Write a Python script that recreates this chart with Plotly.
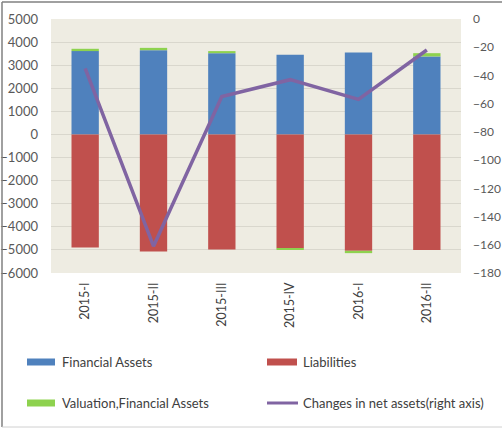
import plotly.graph_objects as go

categories = ["2015-I", "2015-II", "2015-III", "2015-IV", "2016-I", "2016-II"]
financial_assets = [3610, 3650, 3520, 3450, 3550, 3380]
liabilities = [-4900, -5070, -4985, -4930, -5040, -5000]
valuation_fa = [100, 100, 90, -70, -100, 140]
net_change = [-35, -161, -55, -43, -57, -22]

left_ticks = list(range(-6000, 5001, 1000))
right_ticks = list(range(-180, 1, 20))

W, H = 502, 432
L, R, T, B = 51, 41, 19, 159
PW, PH = W - L - R, H - T - B

def px(x):
    return (x - L) / PW

def py(y):
    return 1 - (y - T) / PH

BLUE = "#4F81BD"
RED = "#C0504D"
GREEN = "#8ED24F"
PURPLE = "#8064A2"
FONT = "Lato"

fig = go.Figure()
fig.add_trace(go.Bar(x=categories, y=financial_assets, name="Financial Assets",
                     marker=dict(color=BLUE, line=dict(width=0)), width=0.4))
fig.add_trace(go.Bar(x=categories, y=liabilities, name="Liabilities",
                     marker=dict(color=RED, line=dict(width=0)), width=0.4))
fig.add_trace(go.Bar(x=categories, y=valuation_fa, name="Valuation,Financial Assets",
                     marker=dict(color=GREEN, line=dict(width=0)), width=0.4))
fig.add_trace(go.Scatter(x=categories, y=net_change, name="Changes in net assets(right axis)",
                         mode="lines", line=dict(color=PURPLE, width=3.5), yaxis="y2"))

fig.update_layout(
    width=W, height=H,
    margin=dict(l=L, r=R, t=T, b=B),
    paper_bgcolor="white",
    plot_bgcolor="#EEECE2",
    barmode="relative",
    showlegend=False,
    font=dict(family=FONT, size=13, color="#595959"),
    xaxis=dict(tickangle=-90, tickfont=dict(size=12.5, color="#404040"),
               showgrid=False, ticks="", ticklabelstandoff=6, showline=False,
               automargin=False),
    yaxis=dict(range=[-6000, 5000], tickvals=left_ticks, showgrid=True,
               gridcolor="#D9D7CD", gridwidth=1, zeroline=False, ticks="",
               ticklabelstandoff=12, tickfont=dict(size=13, color="#595959"),
               automargin=False),
    yaxis2=dict(range=[-180, 0], tickvals=right_ticks, overlaying="y", side="right",
                showgrid=False, zeroline=False, ticks="", ticklabelstandoff=11,
                tickfont=dict(size=12, color="#595959"), automargin=False),
)

# custom legend
legend_items = [
    ("Financial Assets", BLUE, 27, 55, 60, 362, "bar"),
    ("Liabilities", RED, 267, 297, 301, 362, "bar"),
    ("Valuation,Financial Assets", GREEN, 27, 55, 60, 403, "bar"),
    ("Changes in net assets(right axis)", PURPLE, 267, 298, 301, 403, "line"),
]
for text, color, x0, x1, xt, yc, kind in legend_items:
    if kind == "bar":
        fig.add_shape(type="rect", xref="paper", yref="paper",
                      x0=px(x0), x1=px(x1), y0=py(yc + 3.5), y1=py(yc - 3.5),
                      fillcolor=color, line=dict(width=0))
    else:
        fig.add_shape(type="line", xref="paper", yref="paper",
                      x0=px(x0), x1=px(x1), y0=py(yc), y1=py(yc),
                      line=dict(color=color, width=3))
    fig.add_annotation(text=text, xref="paper", yref="paper", x=px(xt), y=py(yc),
                       xanchor="left", yanchor="middle", showarrow=False,
                       font=dict(family=FONT, size=13, color="#404040"))

# frame
fig.add_shape(type="line", xref="paper", yref="paper", x0=px(2), x1=px(502), y0=py(2), y1=py(2),
              line=dict(color="#808080", width=1.5))
fig.add_shape(type="line", xref="paper", yref="paper", x0=px(2), x1=px(2), y0=py(2), y1=py(427),
              line=dict(color="#808080", width=1.5))
fig.add_shape(type="line", xref="paper", yref="paper", x0=px(2), x1=px(502), y0=py(427), y1=py(427),
              line=dict(color="#D0D0D0", width=1))

fig.write_html("out.html", config={"displayModeBar": False},
               post_script="document.body.style.margin='0';")
